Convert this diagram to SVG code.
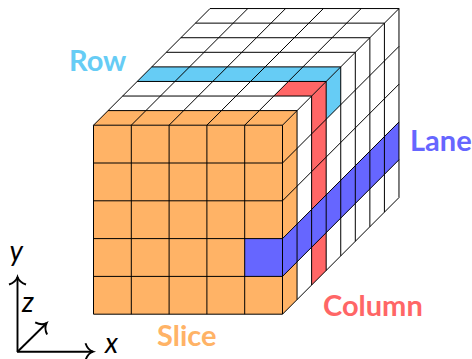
<svg xmlns="http://www.w3.org/2000/svg" width="472" height="359" viewBox="0 0 472 359">
<style>
.g{fill:none;stroke:#000;stroke-width:1}
.ax{fill:none;stroke:#000;stroke-width:1.9}
.l{font-family:"Lato","Noto Sans",sans-serif;font-weight:700;font-size:29px}
.m{font-family:"Lato","Open Sans",sans-serif;font-style:italic;font-size:28px;fill:#000}
</style>
<defs>
<marker id="to" markerUnits="userSpaceOnUse" markerWidth="20" markerHeight="20" refX="10" refY="10" orient="auto" overflow="visible">
<path d="M2.5 1.5C4 6 7 9 10 10C7 11 4 14 2.5 18.5" fill="none" stroke="#000" stroke-width="1.9"/>
</marker>
</defs>
<g id="fills">
<polygon points="93.5,125.2 108.06,110.6 297.06,110.6 282.5,125.2" fill="#FFB366"/>
<rect x="93.5" y="125.2" width="189" height="189" fill="#FFB366"/>
<polygon points="282.5,125.2 297.06,110.6 297.06,299.6 282.5,314.2" fill="#FFB366"/>
<polygon points="137.18,81.46 151.74,66.88 340.74,66.88 326.18,81.46" fill="#66CCF5"/>
<polygon points="326.18,81.46 340.74,66.88 340.74,104.68 326.18,119.26" fill="#66CCF5"/>
<polygon points="273.82,96.04 311.62,96.04 326.18,81.46 288.38,81.46" fill="#FF6666"/>
<polygon points="311.62,96.04 326.18,81.46 326.18,270.46 311.62,285.04" fill="#FF6666"/>
<rect x="244.7" y="238.6" width="37.8" height="37.8" fill="#6666FF"/>
<polygon points="282.5,238.6 399,121.96 399,159.76 282.5,276.4" fill="#6666FF"/>
</g>
<g id="grid">
<path class="g" d="M108.06 110.6H297.06M122.62 96.04H311.62M137.18 81.46H326.18M151.74 66.88H340.74M166.3 52.3H355.3M180.86 37.72H369.86M195.42 23.14H384.42M209.98 8.56H398.98"/>
<path class="g" d="M93.5 125.2L210 8.56M131.3 125.2L247.8 8.56M169.1 125.2L285.6 8.56M206.9 125.2L323.4 8.56M244.7 125.2L361.2 8.56M282.5 125.2L399 8.56"/>
<path class="g" d="M93.5 125.2H282.5M93.5 163H282.5M93.5 200.8H282.5M93.5 238.6H282.5M93.5 276.4H282.5M93.5 314.2H282.5"/>
<path class="g" d="M93.5 125.2V314.2M131.3 125.2V314.2M169.1 125.2V314.2M206.9 125.2V314.2M244.7 125.2V314.2M282.5 125.2V314.2"/>
<path class="g" d="M282.5 163L399 46.36M282.5 200.8L399 84.16M282.5 238.6L399 121.96M282.5 276.4L399 159.76M282.5 314.2L399 197.56"/>
<path class="g" d="M297.06 110.6V299.6M311.62 96.04V285.04M326.18 81.46V270.46M340.74 66.88V255.88M355.3 52.3V241.3M369.86 37.72V226.72M384.42 23.14V212.14M398.98 8.56V197.56"/>
</g>
<g id="axes">
<path class="ax" d="M17.5 352V277" marker-end="url(#to)"/>
<path class="ax" d="M17 351.7H93" marker-end="url(#to)"/>
<path class="ax" d="M17.5 351.7L46.5 323.2" marker-end="url(#to)"/>
<text class="m" x="9.5" y="261">y</text>
<text class="m" x="22" y="312">z</text>
<text class="m" x="105" y="353">x</text>
</g>
<g id="labels">
<text class="l" x="69" y="71" fill="#66CCF5">Row</text>
<text class="l" x="410" y="151" fill="#6666FF">Lane</text>
<text class="l" x="323" y="316" fill="#FF6666">Column</text>
<text class="l" x="157" y="346" fill="#FFB366">Slice</text>
</g>
</svg>
